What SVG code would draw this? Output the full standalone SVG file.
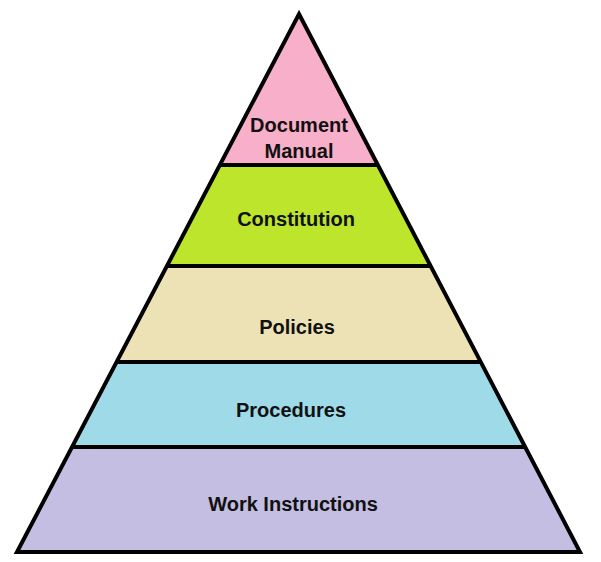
<svg xmlns="http://www.w3.org/2000/svg" width="601" height="562" viewBox="0 0 601 562">
<style>
.t{font-family:"Liberation Sans",Arial,sans-serif;font-weight:bold;font-size:20px;fill:#111;text-anchor:middle}
.ln{stroke:#000;stroke-width:4;fill:none;stroke-linejoin:miter}
</style>
<rect width="601" height="562" fill="#fff"/>
<g id="document-manual">
<polygon points="299,14 377.9,165 219.8,165" fill="#F8AFC9"/>
<text class="t" x="299" y="132">Document</text>
<text class="t" x="299" y="158">Manual</text>
</g>
<g id="constitution">
<polygon points="219.8,165 377.9,165 430.6,266 167.9,266" fill="#BCE52C"/>
<text class="t" x="296" y="226">Constitution</text>
</g>
<g id="policies">
<polygon points="167.9,266 430.6,266 480.8,362 116.6,362" fill="#EDE2B6"/>
<text class="t" x="297" y="334">Policies</text>
</g>
<g id="procedures">
<polygon points="116.6,362 480.8,362 525.2,447 72,447" fill="#9FDAE8"/>
<text class="t" x="291" y="417">Procedures</text>
</g>
<g id="work-instructions">
<polygon points="72,447 525.2,447 580,552 17,552" fill="#C4BEE2"/>
<text class="t" x="293" y="511">Work Instructions</text>
</g>
<g id="connectors">
<line class="ln" x1="219.8" y1="165" x2="377.9" y2="165"/>
<line class="ln" x1="167.9" y1="266" x2="430.6" y2="266"/>
<line class="ln" x1="116.6" y1="362" x2="480.8" y2="362"/>
<line class="ln" x1="72" y1="447" x2="525.2" y2="447"/>
<polygon class="ln" points="299,14 580,552 17,552"/>
</g>
</svg>
